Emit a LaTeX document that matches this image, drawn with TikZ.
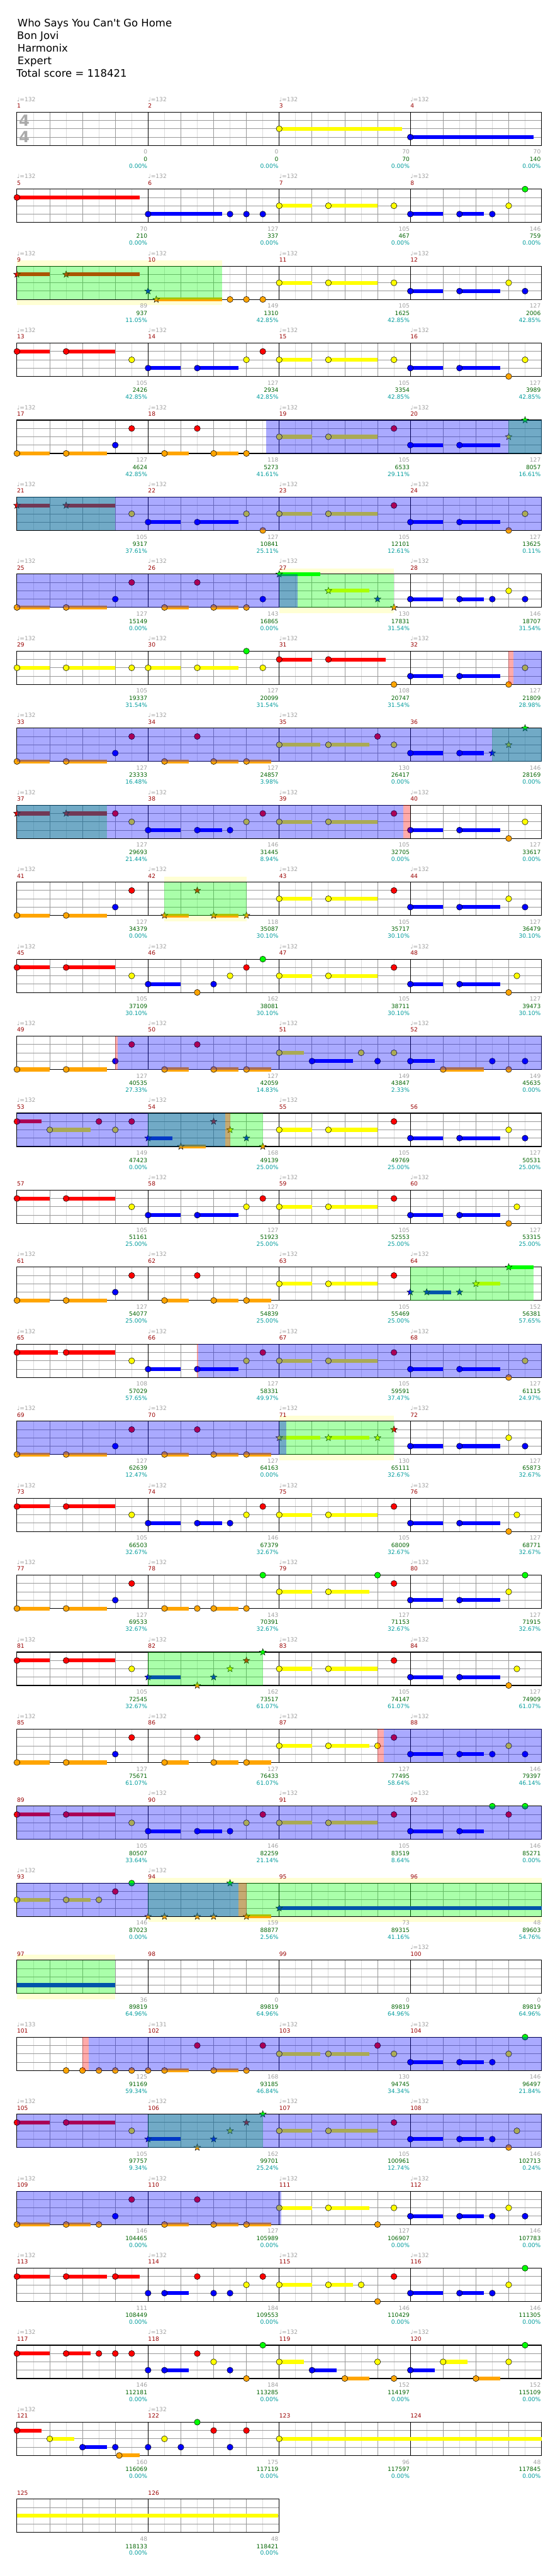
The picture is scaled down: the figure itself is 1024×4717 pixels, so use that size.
\documentclass[tikz,border=0pt]{standalone}
\usepackage{fontspec}
\setmainfont{DejaVu Sans}
\usepackage{tikz}
\definecolor{fretg}{HTML}{00FF00}
\definecolor{fretr}{HTML}{FF0000}
\definecolor{frety}{HTML}{FFFF00}
\definecolor{fretb}{HTML}{0000FF}
\definecolor{freto}{HTML}{FFA500}
\definecolor{mnum}{HTML}{990000}
\definecolor{mgrey}{HTML}{A0A0A0}
\definecolor{mscore}{HTML}{006400}
\definecolor{mpct}{HTML}{009C9C}
\definecolor{mband}{HTML}{FFFFD4}
\definecolor{mgrid}{HTML}{999999}
\definecolor{mgridlt}{HTML}{DCDCDC}
\definecolor{mtsig}{HTML}{AAAAAA}
\pgfdeclarelayer{band}
\pgfdeclarelayer{over}
\pgfsetlayers{band,main,over}
\tikzset{
  lbl/.style={font=\fontsize{10.5}{12}\selectfont, inner sep=0pt},
  tempolbl/.style={lbl, text=mgrey, anchor=base west},
  numlbl/.style={lbl, text=mnum, anchor=base west},
  greylbl/.style={lbl, text=mgrey, anchor=base east},
  scorelbl/.style={lbl, text=mscore, anchor=base east},
  pctlbl/.style={lbl, text=mpct, anchor=base east},
  titlelbl/.style={font=\fontsize{19}{23}\selectfont, inner sep=0pt, anchor=base west},
  tsig/.style={font=\bfseries\fontsize{28}{28}\selectfont, text=mtsig, inner sep=0pt},
  gridlt/.style={mgridlt, line width=1pt},
  griddk/.style={mgrid, line width=1pt},
  barline/.style={black, line width=1pt},
  notehead/.style={draw=black, line width=0.6pt},
  spphrase/.style={fill=mband},
  spgreen/.style={fill=fretg, opacity=0.333},
  spblue/.style={fill=fretb, opacity=0.333},
  spred/.style={fill=fretr, opacity=0.333},
  spstar/.pic={\path[pic actions, draw=black, line width=0.5pt]
    (90:6.5pt) -- (126:2.7pt) -- (162:6.5pt) -- (198:2.7pt) -- (234:6.5pt) --
    (270:2.7pt) -- (306:6.5pt) -- (342:2.7pt) -- (18:6.5pt) -- (54:2.7pt) -- cycle;},
}
\def\laneg{0}\def\laner{1}\def\laney{2}\def\laneb{3}\def\laneo{4}
\newcommand{\staff}[1]{%
  \pgfmathsetmacro{\staffend}{4*#1}%
  \pgfmathtruncatemacro{\nbeats}{4*#1-1}%
  \fill[white] (0,0) rectangle (\staffend,4);
  \foreach \h in {0.5,1.5,...,\staffend} \draw[gridlt] (\h,0) -- (\h,4);
  \foreach \v in {1,...,\nbeats} \draw[griddk] (\v,0) -- (\v,4);
  \foreach \l in {1,2,3} \draw[griddk] (0,\l) -- (\staffend,\l);
  \foreach \m in {4,8,...,\nbeats} \draw[barline] (\m,0) -- (\m,4);
  \draw[black, line width=1.3pt] (0,0) rectangle (\staffend,4);
}
\newenvironment{chartrow}[2]{%
  \pgfmathsetmacro{\rowtop}{-(205.3+141*#1)}%
  \begin{scope}[xshift=31pt, yshift=\rowtop pt, x=60pt, y=-15.25pt]
  \staff{#2}}{\end{scope}}
\newcommand{\measlabel}[6]{%
  \if\relax\detokenize{#6}\relax\else
    \node[tempolbl] (tempo#2) at (4*#1,-1.285) {♩=#6};
  \fi
  \node[numlbl] (meas#2) at (4*#1,-0.5) {#2};
  \node[greylbl] (base#2) at (4*#1+3.98,5.03) {#3};
  \node[scorelbl] (score#2) at (4*#1+3.98,5.9) {#4};
  \node[pctlbl] (pct#2) at (4*#1+3.98,6.73) {#5\%};
}
\newcommand{\nt}[2]{\edef\ntcol{fret#2}\edef\ntlane{\csname lane#2\endcsname}%
  \fill[fill=\ntcol, notehead] (#1,\ntlane) circle (5.5pt);}
\newcommand{\sus}[3]{\edef\ntcol{fret#3}\edef\ntlane{\csname lane#3\endcsname}%
  \fill[fill=\ntcol] (#1,\ntlane-0.23) rectangle (#2,\ntlane+0.23);}
\newcommand{\spn}[2]{\edef\ntcol{fret#2}\edef\ntlane{\csname lane#2\endcsname}%
  \pic[fill=\ntcol] at (#1,\ntlane) {spstar};}
\newcommand{\spband}[2]{\begin{pgfonlayer}{band}\fill[spphrase] (#1,-0.66) rectangle (#2,4.68);\end{pgfonlayer}}
\newcommand{\spzone}[3]{\begin{pgfonlayer}{over}\fill[#3] (#1,0) rectangle (#2,4);\end{pgfonlayer}}

\begin{document}
\begin{tikzpicture}[x=1pt, y=-1pt]
  \begin{pgfonlayer}{band}
    \fill[white] (0,0) rectangle (1024,4717);
  \end{pgfonlayer}
  \useasboundingbox (0,0) rectangle (1024,4717);
  \node[titlelbl] (title) at (32,49) {Who Says You Can\textquotesingle t Go Home};
  \node[titlelbl] (artist) at (31,72) {Bon Jovi};
  \node[titlelbl] (charter) at (32,95) {Harmonix};
  \node[titlelbl] (level) at (32,118) {Expert};
  \node[titlelbl] (total) at (30,141) {Total score = 118421};

  \begin{chartrow}{0}{4}
    \node[tsig] (tsigtop) at (0.225,1.02) {4};
    \node[tsig] (tsigbot) at (0.225,2.95) {4};
    \measlabel{0}{1}{0}{0}{0.00}{132}
    \measlabel{1}{2}{0}{0}{0.00}{132}
    \measlabel{2}{3}{70}{70}{0.00}{132}
    \measlabel{3}{4}{70}{140}{0.00}{132}
    \foreach \c/\b/\e in {y/8/11.75, b/12/15.75} {\sus{\b}{\e}{\c}}
    \foreach \c/\b in {y/8, b/12} {\nt{\b}{\c}}
  \end{chartrow}

  \begin{chartrow}{1}{4}
    \measlabel{0}{5}{70}{210}{0.00}{132}
    \measlabel{1}{6}{127}{337}{0.00}{132}
    \measlabel{2}{7}{105}{467}{0.00}{132}
    \measlabel{3}{8}{146}{759}{0.00}{132}
    \foreach \c/\b/\e in {r/0/3.75, b/4/6.25, y/8/9, y/9.5/11, b/12/13, b/13.5/14.25} {\sus{\b}{\e}{\c}}
    \foreach \c/\b in {r/0, b/4, b/6.5, b/7, b/7.5, y/8, y/9.5, y/11.5, b/12, b/13.5, b/14.5, y/15, g/15.5} {\nt{\b}{\c}}
  \end{chartrow}

  \begin{chartrow}{2}{4}
    \spband{0}{6.25}
    \measlabel{0}{9}{89}{937}{11.05}{132}
    \measlabel{1}{10}{149}{1310}{42.85}{132}
    \measlabel{2}{11}{105}{1625}{42.85}{132}
    \measlabel{3}{12}{127}{2006}{42.85}{132}
    \foreach \c/\b/\e in {r/0/1, r/1.5/3.75, o/4.25/6.25, y/8/9, y/9.5/11, b/12/13, b/13.5/14.75} {\sus{\b}{\e}{\c}}
    \foreach \c/\b in {o/6.5, o/7, o/7.5, y/8, y/9.5, y/11.5, b/12, b/13.5, y/15, b/15.5} {\nt{\b}{\c}}
    \foreach \c/\b in {r/0, r/1.5, b/4, o/4.25} {\spn{\b}{\c}}
    \spzone{0}{6.25}{spgreen}
  \end{chartrow}

  \begin{chartrow}{3}{4}
    \measlabel{0}{13}{105}{2426}{42.85}{132}
    \measlabel{1}{14}{127}{2934}{42.85}{132}
    \measlabel{2}{15}{105}{3354}{42.85}{132}
    \measlabel{3}{16}{127}{3989}{42.85}{132}
    \foreach \c/\b/\e in {r/0/1, r/1.5/3, b/4/5, b/5.5/6.75, y/8/9, y/9.5/11, b/12/13, b/13.5/14.75} {\sus{\b}{\e}{\c}}
    \foreach \c/\b in {r/0, r/1.5, y/3.5, b/4, b/5.5, y/7, r/7.5, y/8, y/9.5, y/11.5, b/12, b/13.5, o/15, y/15.5} {\nt{\b}{\c}}
  \end{chartrow}

  \begin{chartrow}{4}{4}
    \measlabel{0}{17}{127}{4624}{42.85}{132}
    \measlabel{1}{18}{118}{5273}{41.61}{132}
    \measlabel{2}{19}{105}{6533}{29.11}{132}
    \measlabel{3}{20}{127}{8057}{16.61}{132}
    \foreach \c/\b/\e in {o/0/1, o/1.5/2.75, o/4.5/5.25, o/6/6.75, y/8/9, y/9.5/11, b/12/13, b/13.5/14.75} {\sus{\b}{\e}{\c}}
    \foreach \c/\b in {o/0, o/1.5, b/3, r/3.5, o/4.5, r/5.5, o/6, o/7, y/8, y/9.5, r/11.5, b/12, b/13.5} {\nt{\b}{\c}}
    \foreach \c/\b in {y/15, g/15.5} {\spn{\b}{\c}}
    \spzone{15}{16}{spgreen}
    \spzone{7.6}{16}{spblue}
  \end{chartrow}

  \begin{chartrow}{5}{4}
    \measlabel{0}{21}{105}{9317}{37.61}{132}
    \measlabel{1}{22}{127}{10841}{25.11}{132}
    \measlabel{2}{23}{105}{12101}{12.61}{132}
    \measlabel{3}{24}{127}{13625}{0.11}{132}
    \foreach \c/\b/\e in {r/0/1, r/1.5/3, b/4/5, b/5.5/6.75, y/8/9, y/9.5/11, b/12/13, b/13.5/14.75} {\sus{\b}{\e}{\c}}
    \foreach \c/\b in {y/3.5, b/4, b/5.5, y/7, o/7.5, y/8, y/9.5, r/11.5, b/12, b/13.5, o/15, y/15.5} {\nt{\b}{\c}}
    \foreach \c/\b in {r/0, r/1.5} {\spn{\b}{\c}}
    \spzone{0}{3}{spgreen}
    \spzone{0}{16}{spblue}
  \end{chartrow}

  \begin{chartrow}{6}{4}
    \spband{8}{11.5}
    \measlabel{0}{25}{127}{15149}{0.00}{132}
    \measlabel{1}{26}{143}{16865}{0.00}{132}
    \measlabel{2}{27}{130}{17831}{31.54}{132}
    \measlabel{3}{28}{146}{18707}{31.54}{132}
    \foreach \c/\b/\e in {o/0/1, o/1.5/2.75, o/4.5/5.25, o/6/6.75, g/8/9.25, y/9.5/10.75, b/12/13, b/13.5/14.25} {\sus{\b}{\e}{\c}}
    \foreach \c/\b in {o/0, o/1.5, b/3, r/3.5, o/4.5, r/5.5, o/6, o/7, b/7.5, b/12, b/13.5, b/14.5, y/15, b/15.5} {\nt{\b}{\c}}
    \foreach \c/\b in {g/8, y/9.5, b/11, o/11.5} {\spn{\b}{\c}}
    \spzone{8}{11.5}{spgreen}
    \spzone{0}{8.57}{spblue}
  \end{chartrow}

  \begin{chartrow}{7}{4}
    \measlabel{0}{29}{105}{19337}{31.54}{132}
    \measlabel{1}{30}{127}{20099}{31.54}{132}
    \measlabel{2}{31}{108}{20747}{31.54}{132}
    \measlabel{3}{32}{127}{21809}{28.98}{132}
    \foreach \c/\b/\e in {y/0/1, y/1.5/3, y/4/5, y/5.5/6.75, r/8/9, r/9.5/11.25, b/12/13, b/13.5/14.75} {\sus{\b}{\e}{\c}}
    \foreach \c/\b in {y/0, y/1.5, y/3.5, y/4, y/5.5, g/7, y/7.5, r/8, r/9.5, o/11.5, b/12, b/13.5, o/15, y/15.5} {\nt{\b}{\c}}
    \spzone{15.15}{16}{spblue}
    \spzone{15}{15.15}{spred}
  \end{chartrow}

  \begin{chartrow}{8}{4}
    \measlabel{0}{33}{127}{23333}{16.48}{132}
    \measlabel{1}{34}{127}{24857}{3.98}{132}
    \measlabel{2}{35}{130}{26417}{0.00}{132}
    \measlabel{3}{36}{146}{28169}{0.00}{}
    \foreach \c/\b/\e in {o/0/1, o/1.5/2.75, o/4.5/5.25, o/6/6.75, o/7/7.75, y/8/9.25, y/9.5/10.75, b/12/13, b/13.5/14.25} {\sus{\b}{\e}{\c}}
    \foreach \c/\b in {o/0, o/1.5, b/3, r/3.5, o/4.5, r/5.5, o/6, o/7, y/8, y/9.5, r/11, y/11.5, b/12, b/13.5} {\nt{\b}{\c}}
    \foreach \c/\b in {b/14.5, y/15, g/15.5} {\spn{\b}{\c}}
    \spzone{14.5}{16}{spgreen}
    \spzone{0}{16}{spblue}
  \end{chartrow}

  \begin{chartrow}{9}{4}
    \measlabel{0}{37}{127}{29693}{21.44}{132}
    \measlabel{1}{38}{146}{31445}{8.94}{132}
    \measlabel{2}{39}{105}{32705}{0.00}{132}
    \measlabel{3}{40}{127}{33617}{0.00}{132}
    \foreach \c/\b/\e in {r/0/1, r/1.5/2.75, b/4/5, b/5.5/6.25, y/8/9, y/9.5/11, b/12/13, b/13.5/14.75} {\sus{\b}{\e}{\c}}
    \foreach \c/\b in {r/3, y/3.5, b/4, b/5.5, b/6.5, y/7, r/7.5, y/8, y/9.5, r/11.5, b/12, b/13.5, o/15, y/15.5} {\nt{\b}{\c}}
    \foreach \c/\b in {r/0, r/1.5} {\spn{\b}{\c}}
    \spzone{0}{2.75}{spgreen}
    \spzone{0}{11.79}{spblue}
    \spzone{11.79}{12}{spred}
  \end{chartrow}

  \begin{chartrow}{10}{4}
    \spband{4.5}{7}
    \measlabel{0}{41}{127}{34379}{0.00}{132}
    \measlabel{1}{42}{118}{35087}{30.10}{132}
    \measlabel{2}{43}{105}{35717}{30.10}{132}
    \measlabel{3}{44}{127}{36479}{30.10}{132}
    \foreach \c/\b/\e in {o/0/1, o/1.5/2.75, o/4.5/5.25, o/6/6.75, y/8/9, y/9.5/11, b/12/13, b/13.5/14.75} {\sus{\b}{\e}{\c}}
    \foreach \c/\b in {o/0, o/1.5, b/3, r/3.5, y/8, y/9.5, r/11.5, b/12, b/13.5, y/15, b/15.5} {\nt{\b}{\c}}
    \foreach \c/\b in {o/4.5, r/5.5, o/6, o/7} {\spn{\b}{\c}}
    \spzone{4.5}{7}{spgreen}
  \end{chartrow}

  \begin{chartrow}{11}{4}
    \measlabel{0}{45}{105}{37109}{30.10}{132}
    \measlabel{1}{46}{162}{38081}{30.10}{132}
    \measlabel{2}{47}{105}{38711}{30.10}{132}
    \measlabel{3}{48}{127}{39473}{30.10}{132}
    \foreach \c/\b/\e in {r/0/1, r/1.5/3, b/4/5, y/8/9, y/9.5/11, b/12/13, b/13.5/14.75} {\sus{\b}{\e}{\c}}
    \foreach \c/\b in {r/0, r/1.5, y/3.5, b/4, o/5.5, b/6, y/6.5, r/7, g/7.5, y/8, y/9.5, r/11.5, b/12, b/13.5, o/15, y/15.25} {\nt{\b}{\c}}
  \end{chartrow}

  \begin{chartrow}{12}{4}
    \measlabel{0}{49}{127}{40535}{27.33}{132}
    \measlabel{1}{50}{127}{42059}{14.83}{132}
    \measlabel{2}{51}{149}{43847}{2.33}{132}
    \measlabel{3}{52}{149}{45635}{0.00}{132}
    \foreach \c/\b/\e in {o/0/1, o/1.5/2.75, o/4.5/5.25, o/6/6.75, o/7/7.75, y/8/8.75, b/9/10.25, b/12/12.75, o/13/14.25} {\sus{\b}{\e}{\c}}
    \foreach \c/\b in {o/0, o/1.5, b/3, r/3.5, o/4.5, r/5.5, o/6, o/7, y/8, b/9, y/10.5, b/11, y/11.5, b/12, o/13, b/14.5, o/15, b/15.5} {\nt{\b}{\c}}
    \spzone{3.08}{16}{spblue}
    \spzone{3}{3.08}{spred}
  \end{chartrow}

  \begin{chartrow}{13}{4}
    \measlabel{0}{53}{149}{47423}{0.00}{132}
    \measlabel{1}{54}{168}{49139}{25.00}{132}
    \measlabel{2}{55}{105}{49769}{25.00}{132}
    \measlabel{3}{56}{127}{50531}{25.00}{}
    \foreach \c/\b/\e in {r/0/0.75, y/1/2.25, b/4/4.75, o/5/5.75, y/8/9, y/9.5/11, b/12/13, b/13.5/14.75} {\sus{\b}{\e}{\c}}
    \foreach \c/\b in {r/0, y/1, r/2.5, y/3, r/3.5, y/8, y/9.5, r/11.5, b/12, b/13.5, y/15, b/15.5} {\nt{\b}{\c}}
    \foreach \c/\b in {b/4, o/5, r/6, y/6.5, b/7, o/7.5} {\spn{\b}{\c}}
    \spzone{4}{7.5}{spgreen}
    \spzone{0}{6.36}{spblue}
    \spzone{6.36}{6.5}{spred}
  \end{chartrow}

  \begin{chartrow}{14}{4}
    \measlabel{0}{57}{105}{51161}{25.00}{}
    \measlabel{1}{58}{127}{51923}{25.00}{132}
    \measlabel{2}{59}{105}{52553}{25.00}{132}
    \measlabel{3}{60}{127}{53315}{25.00}{132}
    \foreach \c/\b/\e in {r/0/1, r/1.5/3, b/4/5, b/5.5/6.75, y/8/9, y/9.5/11, b/12/13, b/13.5/14.75} {\sus{\b}{\e}{\c}}
    \foreach \c/\b in {r/0, r/1.5, y/3.5, b/4, b/5.5, y/7, r/7.5, y/8, y/9.5, r/11.5, b/12, b/13.5, o/15, y/15.25} {\nt{\b}{\c}}
  \end{chartrow}

  \begin{chartrow}{15}{4}
    \measlabel{0}{61}{127}{54077}{25.00}{132}
    \measlabel{1}{62}{127}{54839}{25.00}{132}
    \measlabel{2}{63}{105}{55469}{25.00}{132}
    \measlabel{3}{64}{152}{56381}{57.65}{132}
    \foreach \c/\b/\e in {o/0/1, o/1.5/2.75, o/4.5/5.25, o/6/6.75, o/7/7.75, y/8/9, y/9.5/11, b/12.5/13.25, y/14/14.75, g/15/15.75} {\sus{\b}{\e}{\c}}
    \foreach \c/\b in {o/0, o/1.5, b/3, r/3.5, o/4.5, r/5.5, o/6, o/7, y/8, y/9.5, r/11.5} {\nt{\b}{\c}}
    \foreach \c/\b in {b/12, b/12.5, b/13.5, y/14, g/15} {\spn{\b}{\c}}
    \spzone{12}{15.75}{spgreen}
  \end{chartrow}

  \begin{chartrow}{16}{4}
    \measlabel{0}{65}{108}{57029}{57.65}{132}
    \measlabel{1}{66}{127}{58331}{49.97}{132}
    \measlabel{2}{67}{105}{59591}{37.47}{132}
    \measlabel{3}{68}{127}{61115}{24.97}{132}
    \foreach \c/\b/\e in {r/0/1.25, r/1.5/3, b/4/5, b/5.5/6.75, y/8/9, y/9.5/11, b/12/13, b/13.5/14.75} {\sus{\b}{\e}{\c}}
    \foreach \c/\b in {r/0, r/1.5, y/3.5, b/4, b/5.5, y/7, r/7.5, y/8, y/9.5, r/11.5, b/12, b/13.5, o/15, y/15.5} {\nt{\b}{\c}}
    \spzone{5.53}{16}{spblue}
    \spzone{5.5}{5.53}{spred}
  \end{chartrow}

  \begin{chartrow}{17}{4}
    \spband{8}{11.5}
    \measlabel{0}{69}{127}{62639}{12.47}{132}
    \measlabel{1}{70}{127}{64163}{0.00}{132}
    \measlabel{2}{71}{130}{65111}{32.67}{132}
    \measlabel{3}{72}{127}{65873}{32.67}{132}
    \foreach \c/\b/\e in {o/0/1, o/1.5/2.75, o/4.5/5.25, o/6/6.75, o/7/7.75, y/8/9.25, y/9.5/10.75, b/12/13, b/13.5/14.75} {\sus{\b}{\e}{\c}}
    \foreach \c/\b in {o/0, o/1.5, b/3, r/3.5, o/4.5, r/5.5, o/6, o/7, b/12, b/13.5, y/15, b/15.5} {\nt{\b}{\c}}
    \foreach \c/\b in {y/8, y/9.5, y/11, r/11.5} {\spn{\b}{\c}}
    \spzone{8}{11.5}{spgreen}
    \spzone{0}{8.22}{spblue}
  \end{chartrow}

  \begin{chartrow}{18}{4}
    \measlabel{0}{73}{105}{66503}{32.67}{132}
    \measlabel{1}{74}{146}{67379}{32.67}{132}
    \measlabel{2}{75}{105}{68009}{32.67}{132}
    \measlabel{3}{76}{127}{68771}{32.67}{132}
    \foreach \c/\b/\e in {r/0/1, r/1.5/3, b/4/5, b/5.5/6.25, y/8/9, y/9.5/11, b/12/13, b/13.5/14.75} {\sus{\b}{\e}{\c}}
    \foreach \c/\b in {r/0, r/1.5, y/3.5, b/4, b/5.5, b/6.5, y/7, r/7.5, y/8, y/9.5, r/11.5, b/12, b/13.5, o/15, y/15.25} {\nt{\b}{\c}}
  \end{chartrow}

  \begin{chartrow}{19}{4}
    \measlabel{0}{77}{127}{69533}{32.67}{132}
    \measlabel{1}{78}{143}{70391}{32.67}{132}
    \measlabel{2}{79}{127}{71153}{32.67}{132}
    \measlabel{3}{80}{127}{71915}{32.67}{132}
    \foreach \c/\b/\e in {o/0/1, o/1.5/2.75, o/4.5/5.25, o/6/6.75, y/8/9, y/9.5/10.75, b/12/13, b/13.5/14.75} {\sus{\b}{\e}{\c}}
    \foreach \c/\b in {o/0, o/1.5, b/3, r/3.5, o/4.5, o/5.5, o/6, o/7, g/7.5, y/8, y/9.5, g/11, r/11.5, b/12, b/13.5, y/15, g/15.5} {\nt{\b}{\c}}
  \end{chartrow}

  \begin{chartrow}{20}{4}
    \measlabel{0}{81}{105}{72545}{32.67}{132}
    \measlabel{1}{82}{162}{73517}{61.07}{132}
    \measlabel{2}{83}{105}{74147}{61.07}{132}
    \measlabel{3}{84}{127}{74909}{61.07}{132}
    \foreach \c/\b/\e in {r/0/1, r/1.5/3, b/4/5, y/8/9, y/9.5/11, b/12/13, b/13.5/14.75} {\sus{\b}{\e}{\c}}
    \foreach \c/\b in {r/0, r/1.5, y/3.5, y/8, y/9.5, r/11.5, b/12, b/13.5, o/15, y/15.25} {\nt{\b}{\c}}
    \foreach \c/\b in {b/4, o/5.5, b/6, y/6.5, r/7, g/7.5} {\spn{\b}{\c}}
    \spzone{4}{7.5}{spgreen}
  \end{chartrow}

  \begin{chartrow}{21}{4}
    \measlabel{0}{85}{127}{75671}{61.07}{132}
    \measlabel{1}{86}{127}{76433}{61.07}{132}
    \measlabel{2}{87}{127}{77495}{58.64}{132}
    \measlabel{3}{88}{146}{79397}{46.14}{132}
    \foreach \c/\b/\e in {o/0/1, o/1.5/2.75, o/4.5/5.25, o/6/6.75, o/7/7.75, y/8/9, y/9.5/10.75, b/12/13, b/13.5/14.25} {\sus{\b}{\e}{\c}}
    \foreach \c/\b in {o/0, o/1.5, b/3, r/3.5, o/4.5, r/5.5, o/6, o/7, y/8, y/9.5, y/11, r/11.5, b/12, b/13.5, b/14.5, y/15, b/15.5} {\nt{\b}{\c}}
    \spzone{11.2}{16}{spblue}
    \spzone{11}{11.2}{spred}
  \end{chartrow}

  \begin{chartrow}{22}{4}
    \measlabel{0}{89}{105}{80507}{33.64}{}
    \measlabel{1}{90}{146}{82259}{21.14}{132}
    \measlabel{2}{91}{105}{83519}{8.64}{132}
    \measlabel{3}{92}{146}{85271}{0.00}{132}
    \foreach \c/\b/\e in {r/0/1, r/1.5/3, b/4/5, b/5.5/6.25, y/8/9, y/9.5/11, b/12/13, b/13.5/14.25} {\sus{\b}{\e}{\c}}
    \foreach \c/\b in {r/0, r/1.5, y/3.5, b/4, b/5.5, b/6.5, y/7, r/7.5, y/8, y/9.5, r/11.5, b/12, b/13.5, g/14.5, r/15, g/15.5} {\nt{\b}{\c}}
    \spzone{0}{16}{spblue}
  \end{chartrow}

  \begin{chartrow}{23}{4}
    \spband{4}{16}
    \measlabel{0}{93}{146}{87023}{0.00}{132}
    \measlabel{1}{94}{159}{88877}{2.56}{132}
    \measlabel{2}{95}{73}{89315}{41.16}{}
    \measlabel{3}{96}{48}{89603}{54.76}{}
    \foreach \c/\b/\e in {y/0/1, y/1.5/2.25, o/7/7.75, b/8/16} {\sus{\b}{\e}{\c}}
    \foreach \c/\b in {y/0, y/1.5, y/2.5, r/3, g/3.5} {\nt{\b}{\c}}
    \foreach \c/\b in {o/4, o/4.5, o/5.5, o/6, g/6.5, o/7, b/8} {\spn{\b}{\c}}
    \spzone{4}{16}{spgreen}
    \spzone{0}{6.75}{spblue}
    \spzone{6.75}{7}{spred}
  \end{chartrow}

  \begin{chartrow}{24}{4}
    \spband{0}{3}
    \measlabel{0}{97}{36}{89819}{64.96}{}
    \measlabel{1}{98}{0}{89819}{64.96}{}
    \measlabel{2}{99}{0}{89819}{64.96}{}
    \measlabel{3}{100}{0}{89819}{64.96}{132}
    \foreach \c/\b/\e in {b/0/3} {\sus{\b}{\e}{\c}}
    \spzone{0}{3}{spgreen}
  \end{chartrow}

  \begin{chartrow}{25}{4}
    \measlabel{0}{101}{125}{91169}{59.34}{133}
    \measlabel{1}{102}{168}{93185}{46.84}{131}
    \measlabel{2}{103}{130}{94745}{34.34}{132}
    \measlabel{3}{104}{146}{96497}{21.84}{132}
    \foreach \c/\b/\e in {o/4.5/5.25, o/6/6.75, y/8/9.25, y/9.5/10.75, b/12/13, b/13.5/14.25} {\sus{\b}{\e}{\c}}
    \foreach \c/\b in {o/1.5, o/2, o/2.5, o/3, o/3.5, o/4, o/4.5, r/5.5, o/6, o/7, r/7.5, y/8, y/9.5, r/11, y/11.5, b/12, b/13.5, b/14.5, y/15, g/15.5} {\nt{\b}{\c}}
    \spzone{2.19}{16}{spblue}
    \spzone{2}{2.19}{spred}
  \end{chartrow}

  \begin{chartrow}{26}{4}
    \measlabel{0}{105}{105}{97757}{9.34}{132}
    \measlabel{1}{106}{162}{99701}{25.24}{132}
    \measlabel{2}{107}{105}{100961}{12.74}{132}
    \measlabel{3}{108}{146}{102713}{0.24}{132}
    \foreach \c/\b/\e in {r/0/1, r/1.5/3, b/4/5, y/8/9, y/9.5/11, b/12/13, b/13.5/14.25} {\sus{\b}{\e}{\c}}
    \foreach \c/\b in {r/0, r/1.5, y/3.5, y/8, y/9.5, r/11.5, b/12, b/13.5, b/14.5, o/15, y/15.25} {\nt{\b}{\c}}
    \foreach \c/\b in {b/4, o/5.5, b/6, y/6.5, r/7, g/7.5} {\spn{\b}{\c}}
    \spzone{4}{7.5}{spgreen}
    \spzone{0}{16}{spblue}
  \end{chartrow}

  \begin{chartrow}{27}{4}
    \measlabel{0}{109}{146}{104465}{0.00}{132}
    \measlabel{1}{110}{127}{105989}{0.00}{132}
    \measlabel{2}{111}{127}{106907}{0.00}{132}
    \measlabel{3}{112}{146}{107783}{0.00}{132}
    \foreach \c/\b/\e in {o/0/1, o/1.5/2.25, o/4.5/5.25, o/6/6.75, o/7/7.75, y/8/9, y/9.5/10.75, b/12/13, b/13.5/14.25} {\sus{\b}{\e}{\c}}
    \foreach \c/\b in {o/0, o/1.5, o/2.5, b/3, r/3.5, o/4.5, r/5.5, o/6, o/7, y/8, y/9.5, o/11, y/11.5, b/12, b/13.5, b/14.5, y/15, b/15.5} {\nt{\b}{\c}}
    \spzone{0}{8.07}{spblue}
  \end{chartrow}

  \begin{chartrow}{28}{4}
    \measlabel{0}{113}{111}{108449}{0.00}{132}
    \measlabel{1}{114}{184}{109553}{0.00}{132}
    \measlabel{2}{115}{146}{110429}{0.00}{132}
    \measlabel{3}{116}{146}{111305}{0.00}{132}
    \foreach \c/\b/\e in {r/0/1, r/1.5/2.75, r/3/3.75, b/4.5/5.25, y/8/9, y/9.5/10.25, b/12/13, b/13.5/14.25} {\sus{\b}{\e}{\c}}
    \foreach \c/\b in {r/0, r/1.5, r/3, b/4, b/4.5, r/5.5, b/6, b/6.5, y/7, r/7.5, y/8, y/9.5, y/10.5, o/11, r/11.5, b/12, b/13.5, b/14.5, y/15, g/15.5} {\nt{\b}{\c}}
  \end{chartrow}

  \begin{chartrow}{29}{4}
    \measlabel{0}{117}{146}{112181}{0.00}{132}
    \measlabel{1}{118}{184}{113285}{0.00}{132}
    \measlabel{2}{119}{152}{114197}{0.00}{132}
    \measlabel{3}{120}{152}{115109}{0.00}{132}
    \foreach \c/\b/\e in {r/0/1, r/1.5/2.25, b/4.5/5.25, y/8/8.75, b/9/9.75, o/10/10.75, b/12/12.75, y/13/13.75, o/14/14.75} {\sus{\b}{\e}{\c}}
    \foreach \c/\b in {r/0, r/1.5, r/2.5, r/3, r/3.5, b/4, b/4.5, r/5.5, y/6, b/6.5, o/7, g/7.5, y/8, b/9, o/10, y/11, o/11.5, b/12, y/13, o/14, y/15, g/15.5} {\nt{\b}{\c}}
  \end{chartrow}

  \begin{chartrow}{30}{4}
    \measlabel{0}{121}{160}{116069}{0.00}{132}
    \measlabel{1}{122}{175}{117119}{0.00}{132}
    \measlabel{2}{123}{96}{117597}{0.00}{}
    \measlabel{3}{124}{48}{117845}{0.00}{}
    \foreach \c/\b/\e in {r/0/0.75, y/1/1.75, b/2/2.75, o/3.12/3.75, y/8/16} {\sus{\b}{\e}{\c}}
    \foreach \c/\b in {r/0, y/1, b/2, b/3, o/3.12, b/4, y/4.5, b/5, g/5.5, r/6, b/6.5, r/7, y/8} {\nt{\b}{\c}}
  \end{chartrow}

  \begin{chartrow}{31}{2}
    \measlabel{0}{125}{48}{118133}{0.00}{}
    \measlabel{1}{126}{48}{118421}{0.00}{}
    \foreach \c/\b/\e in {y/0/7.97} {\sus{\b}{\e}{\c}}
  \end{chartrow}
\end{tikzpicture}
\end{document}
